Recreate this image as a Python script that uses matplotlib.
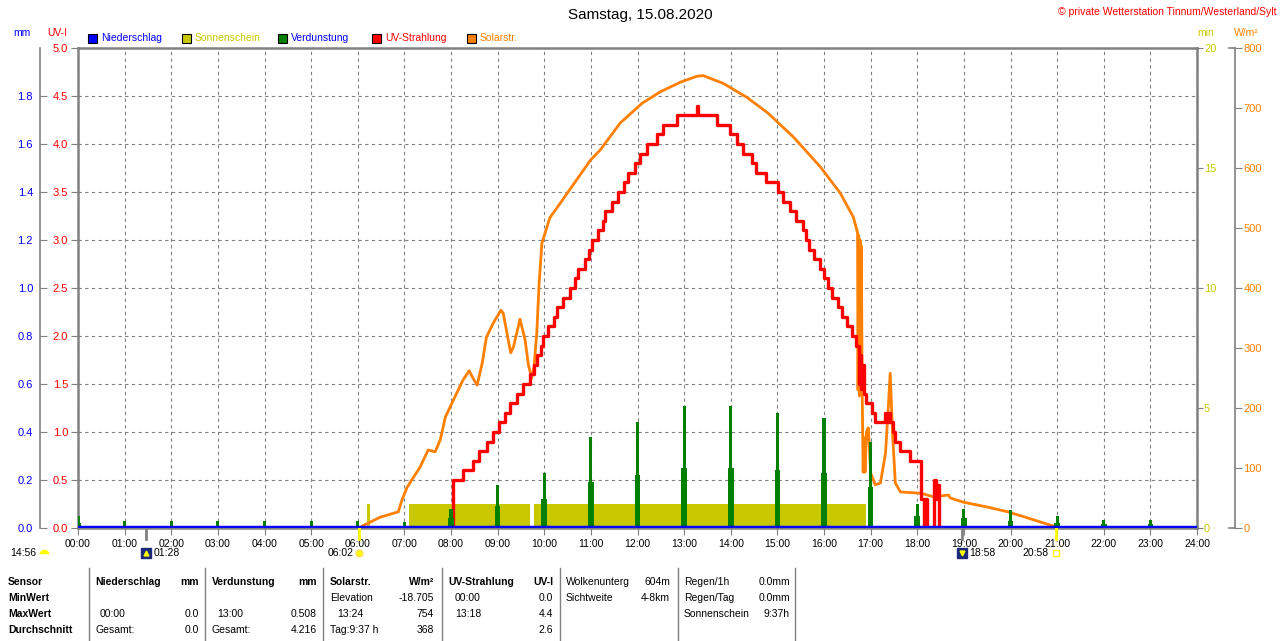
import numpy as np
import matplotlib
matplotlib.use('Agg')
import matplotlib.pyplot as plt
from matplotlib.lines import Line2D
from matplotlib.patches import Rectangle
import matplotlib.transforms as mtrans

plt.rcParams['font.family'] = ['Liberation Sans', 'DejaVu Sans']
plt.rcParams['font.size'] = 7.5

# --- Daten ---
hours = np.arange(0, 25)
hour_labels = ['%02d:00' % h for h in hours]

# UV-Strahlung (Stufen, Zeitpunkt der Aenderung)
uv_t = [0.0, 8.05, 8.26, 8.48, 8.59, 8.78, 8.91, 9.03, 9.16, 9.27, 9.42, 9.55, 9.70, 9.78,
        9.85, 9.92, 9.98, 10.09, 10.20, 10.28, 10.41, 10.56, 10.65, 10.73, 10.88, 10.95,
        11.03, 11.16, 11.25, 11.31, 11.46, 11.59, 11.70, 11.80, 11.95, 12.06, 12.21, 12.42,
        12.55, 12.85, 13.27, 13.30, 13.71, 13.99, 14.14, 14.27, 14.46, 14.55, 14.75, 15.02,
        15.13, 15.28, 15.39, 15.56, 15.62, 15.67, 15.78, 15.92, 16.00, 16.09, 16.18, 16.31,
        16.39, 16.50, 16.60, 16.68, 16.74, 16.76, 16.78, 16.80, 16.82, 16.85, 16.91, 17.04,
        17.10, 17.30, 17.32, 17.35, 17.37, 17.40, 17.42, 17.47, 17.53, 17.64, 17.85, 18.07,
        18.14, 18.16, 18.21, 18.35, 18.40, 18.43, 18.46, 24.0]
uv_v = [0.0, 0.5, 0.6, 0.7, 0.8, 0.9, 1.0, 1.1, 1.2, 1.3, 1.4, 1.5, 1.6, 1.7,
        1.8, 1.9, 2.0, 2.1, 2.2, 2.3, 2.4, 2.5, 2.6, 2.7, 2.8, 2.9,
        3.0, 3.1, 3.2, 3.3, 3.4, 3.5, 3.6, 3.7, 3.8, 3.9, 4.0, 4.1,
        4.2, 4.3, 4.4, 4.3, 4.2, 4.1, 4.0, 3.9, 3.8, 3.7, 3.6, 3.5,
        3.4, 3.3, 3.2, 3.1, 3.0, 2.9, 2.8, 2.7, 2.6, 2.5, 2.4, 2.3,
        2.2, 2.1, 2.0, 1.9, 1.7, 1.5, 1.8, 1.45, 1.7, 1.4, 1.3, 1.2,
        1.1, 1.2, 1.1, 1.2, 1.1, 1.2, 1.1, 1.0, 0.9, 0.8, 0.7, 0.3,
        0.0, 0.3, 0.0, 0.5, 0.3, 0.45, 0.0, 0.0]

# Solarstrahlung W/m2
sol_t = [0.0, 6.05, 6.09, 6.48, 6.87, 6.95, 7.06, 7.34, 7.51, 7.66, 7.77, 7.88, 8.05, 8.26,
         8.39, 8.47, 8.56, 8.67, 8.76, 8.91, 9.07, 9.12, 9.20, 9.28, 9.34, 9.41, 9.48, 9.59,
         9.66, 9.73, 9.78, 9.84, 9.89, 9.95, 10.02, 10.12, 10.34, 10.99, 11.20, 11.63, 12.10,
         12.49, 12.92, 13.28, 13.41, 13.84, 14.36, 14.79, 15.34, 15.92, 16.35, 16.63, 16.72,
         16.73, 16.745, 16.76, 16.775, 16.79, 16.80, 16.82, 16.84, 16.86, 16.88, 16.91, 16.95,
         17.00, 17.10, 17.21, 17.32, 17.38, 17.42, 17.47, 17.53, 17.64, 18.07, 18.35, 18.67,
         18.71, 18.99, 19.50, 19.94, 20.36, 20.64, 20.93, 20.98, 24.0]
sol_v = [0, 0, 3, 18, 27, 47, 68, 102, 130, 127, 147, 185, 213, 247,
         262, 250, 238, 275, 318, 342, 363, 358, 325, 292, 302, 325, 348, 313,
         272, 250, 268, 325, 408, 475, 492, 517, 541, 613, 630, 675, 708,
         727, 743, 753, 754, 741, 717, 692, 652, 602, 558, 518, 492,
         230, 488, 220, 480, 260, 470, 220, 93, 150, 93, 160, 167,
         92, 72, 75, 125, 202, 258, 158, 75, 60, 58, 52, 55,
         50, 43, 35, 27, 17, 10, 3, 0, 0]

# Sonnenschein (min)
sun_start = [6.20, 7.10, 9.77]
sun_end = [6.27, 9.70, 16.91]
sun_min = [1.0, 1.0, 1.0]

# Verdunstung (mm)
evap_t = np.arange(0, 24)
evap_peak = [0.05, 0.03, 0.03, 0.03, 0.03, 0.03, 0.03, 0.025, 0.08, 0.18, 0.23, 0.38,
             0.44, 0.508, 0.508, 0.48, 0.46, 0.36, 0.10, 0.08, 0.075, 0.05, 0.035, 0.035]
evap_base = [0.02, 0.01, 0.01, 0.01, 0.01, 0.01, 0.01, 0.01, 0.04, 0.09, 0.12, 0.19,
             0.22, 0.25, 0.25, 0.24, 0.23, 0.17, 0.05, 0.04, 0.03, 0.02, 0.015, 0.015]

# Niederschlag (mm)
rain_t = [0, 24]
rain_v = [0.0, 0.0]

BLUE = '#0000FF'
RED = '#FF0000'
ORANGE = '#FF8000'
SUN = '#C8C800'
GREEN = '#008000'
GRAY = '#808080'
NAVY = '#1C2A7A'

legend_names = ['Niederschlag', 'Sonnenschein', 'Verdunstung', 'UV-Strahlung', 'Solarstr.']
legend_box = [BLUE, SUN, GREEN, RED, ORANGE]
legend_txt = [BLUE, SUN, BLUE, RED, ORANGE]

W, H = 1280, 641
fig = plt.figure(figsize=(12.8, 6.41), dpi=100, facecolor='white')

def fx(x):
    return x / W

def fy(y):
    return 1 - y / H

ax = fig.add_axes([fx(78), fy(528), 1119 / W, 480 / H])
ax.set_zorder(0)
ax.set_xlim(0, 24)
ax.set_ylim(0, 5)
ax.set_xticks(hours)
ax.set_xticklabels(hour_labels)
ax.set_yticks(np.arange(0, 5.01, 0.5))
ax.set_yticklabels(['%.1f' % v for v in np.arange(0, 5.01, 0.5)])
ax.tick_params(axis='y', colors=GRAY, labelcolor=RED, direction='out', length=5, pad=2,
               labelsize=8)
ax.tick_params(axis='x', colors=GRAY, labelcolor='black', direction='out', length=5, pad=3,
               labelsize=7.5)
ax.grid(True, color=GRAY, linestyle=(0, (3, 3)), linewidth=0.8)
ax.set_axisbelow(True)
for s in ax.spines.values():
    s.set_color(GRAY)
    s.set_linewidth(1.8)

# Sonnenschein-Achse (rechts, min)
ax_sun = ax.twinx()
ax_sun.set_zorder(1)
ax_sun.set_ylim(0, 20)
ax_sun.set_yticks([0, 5, 10, 15, 20])
ax_sun.tick_params(axis='y', colors=GRAY, labelcolor=SUN, length=4, pad=1, labelsize=8)
for s in ax_sun.spines.values():
    s.set_visible(False)
ax_sun.bar(sun_start, sun_min, width=np.array(sun_end) - np.array(sun_start), align='edge',
           color=SUN, linewidth=0)

# Solarstrahlung-Achse (weiter rechts)
ax_sol = ax.twinx()
ax_sol.set_zorder(2)
ax_sol.set_ylim(0, 800)
ax_sol.set_yticks(np.arange(0, 801, 100))
ax_sol.tick_params(axis='y', colors=GRAY, labelcolor=ORANGE, length=5, pad=1, labelsize=8)
for k, s in ax_sol.spines.items():
    s.set_visible(k == 'right')
ax_sol.spines['right'].set_position(('axes', 1.034))
ax_sol.spines['right'].set_color(GRAY)
ax_sol.spines['right'].set_linewidth(1.2)
ax_sol.plot(sol_t, sol_v, color=ORANGE, lw=2.0)
for yy in [48, 528]:
    fig.add_artist(Line2D([fx(1229), fx(1235)], [fy(yy), fy(yy)], color=GRAY, lw=1.2,
                          transform=fig.transFigure))

# UV-Linie
ax_uv = ax.twinx()
ax_uv.set_zorder(3)
ax_uv.set_ylim(0, 5)
ax_uv.set_yticks([])
for s in ax_uv.spines.values():
    s.set_visible(False)
ax_uv.step(uv_t, uv_v, where='post', color=RED, lw=2.4)

# mm-Achse (links aussen): Verdunstung + Niederschlag
ax_mm = ax.twinx()
ax_mm.set_zorder(4)
ax_mm.set_ylim(0, 2)
ax_mm.yaxis.tick_left()
ax_mm.set_yticks(np.arange(0, 1.81, 0.2))
ax_mm.set_yticklabels(['%.1f' % v for v in np.arange(0, 1.81, 0.2)])
ax_mm.tick_params(axis='y', colors=GRAY, labelcolor=BLUE, direction='in', length=5, pad=5,
                  labelsize=8)
for k, s in ax_mm.spines.items():
    s.set_visible(k == 'left')
ax_mm.spines['left'].set_position(('axes', -0.034))
ax_mm.spines['left'].set_color(GRAY)
ax_mm.spines['left'].set_linewidth(1.2)
ax_mm.bar(evap_t, evap_base, width=0.12, color=GREEN, linewidth=0)
ax_mm.bar(evap_t, evap_peak, width=0.065, color=GREEN, linewidth=0)
ax_mm.plot(rain_t, rain_v, color=BLUE, lw=3.2)

# Achsentitel
fig.text(fx(22), fy(33), 'mm', color=BLUE, ha='center', va='center', fontsize=7.5)
fig.text(fx(57), fy(33), 'UV-I', color=RED, ha='center', va='center', fontsize=7.5)
fig.text(fx(1206), fy(33), 'min', color=SUN, ha='center', va='center', fontsize=7.5)
fig.text(fx(1246), fy(33), 'W/m²', color=ORANGE, ha='center', va='center', fontsize=7.5)

# Titel
fig.text(0.5, fy(15), 'Samstag, 15.08.2020', ha='center', va='center', fontsize=11)
fig.text(fx(1276), fy(12), '© private Wetterstation Tinnum/Westerland/Sylt', color=RED,
         ha='right', va='center', fontsize=7.5)

# Legende
leg_x = [88, 182, 278, 372, 467]
for name, bc, tc, x in zip(legend_names, legend_box, legend_txt, leg_x):
    fig.add_artist(Rectangle((fx(x), fy(43)), 9 / W, 9 / H, facecolor=bc, edgecolor='black',
                             linewidth=0.8, transform=fig.transFigure))
    fig.text(fx(x + 13), fy(38), name, color=tc, ha='left', va='center', fontsize=7.5)

# Mond / Sonne Zeiten
trans = mtrans.blended_transform_factory(ax.transData, ax.transAxes)
ev_t = [1 + 28 / 60, 6 + 2 / 60, 18 + 58 / 60, 20 + 58 / 60]
ev_lbl = ['01:28', '06:02', '18:58', '20:58']
ev_col = [GRAY, '#FFFF00', GRAY, '#FFFF00']
yrow = -25 / 480
for t, lbl, c in zip(ev_t, ev_lbl, ev_col):
    ax.plot([t, t], [0, -0.022], color=c, lw=2, transform=trans, clip_on=False, zorder=5)
ax.plot([ev_t[0]], [yrow], marker='s', ms=7, color=NAVY, transform=trans, clip_on=False)
ax.plot([ev_t[0]], [yrow], marker='^', ms=3.5, color='#FFFF00', transform=trans, clip_on=False)
ax.text(ev_t[0] + 0.15, yrow, ev_lbl[0], transform=trans, ha='left', va='center', fontsize=7.5)
ax.plot([ev_t[1]], [yrow], marker='o', ms=5, color='#FFFF00', mec='#FFE060',
        transform=trans, clip_on=False)
ax.text(ev_t[1] - 0.12, yrow, ev_lbl[1], transform=trans, ha='right', va='center', fontsize=7.5)
ax.plot([ev_t[2]], [yrow], marker='s', ms=7, color=NAVY, transform=trans, clip_on=False)
ax.plot([ev_t[2]], [yrow], marker='v', ms=3.5, color='#FFFF00', transform=trans, clip_on=False)
ax.text(ev_t[2] + 0.15, yrow, ev_lbl[2], transform=trans, ha='left', va='center', fontsize=7.5)
ax.plot([ev_t[3]], [yrow], marker='s', ms=4, mfc='white', mec='#FFFF00', mew=1,
        transform=trans, clip_on=False)
ax.text(ev_t[3] - 0.15, yrow, ev_lbl[3], transform=trans, ha='right', va='center', fontsize=7.5)
fig.text(fx(10), fy(553), '14:56', ha='left', va='center', fontsize=7.5)
fig.add_artist(Line2D([fx(44)], [fy(554)], marker='o', ms=7, fillstyle='top', mfc='#FFFF00',
                      mfcalt='white', mew=0, transform=fig.transFigure))

# Tabelle unten
for x in [89, 205, 323, 442, 560, 678, 795]:
    fig.add_artist(Line2D([fx(x), fx(x)], [fy(568), fy(641)], color=GRAY, lw=1,
                          transform=fig.transFigure))

rows_y = [582, 598, 614, 630]
left_txt = [
    (8, 0, 'Sensor', True), (8, 1, 'MinWert', True), (8, 2, 'MaxWert', True),
    (8, 3, 'Durchschnitt', True),
    (95, 0, 'Niederschlag', True), (100, 2, '00:00', False), (95, 3, 'Gesamt:', False),
    (212, 0, 'Verdunstung', True), (217, 2, '13:00', False), (212, 3, 'Gesamt:', False),
    (330, 0, 'Solarstr.', True), (330, 1, 'Elevation', False), (337, 2, '13:24', False),
    (330, 3, 'Tag:9:37 h', False),
    (448, 0, 'UV-Strahlung', True), (455, 1, '00:00', False), (455, 2, '13:18', False),
    (566, 0, 'Wolkenunterg', False), (566, 1, 'Sichtweite', False),
    (684, 0, 'Regen/1h', False), (684, 1, 'Regen/Tag', False), (684, 2, 'Sonnenschein', False),
]
right_txt = [
    (199, 0, 'mm', True), (199, 2, '0.0', False), (199, 3, '0.0', False),
    (317, 0, 'mm', True), (317, 2, '0.508', False), (317, 3, '4.216', False),
    (434, 0, 'W/m²', True), (434, 1, '-18.705', False), (434, 2, '754', False),
    (434, 3, '368', False),
    (553, 0, 'UV-I', True), (553, 1, '0.0', False), (553, 2, '4.4', False),
    (553, 3, '2.6', False),
    (670, 0, '604m', False), (670, 1, '4-8km', False),
    (790, 0, '0.0mm', False), (790, 1, '0.0mm', False), (790, 2, '9:37h', False),
]
for x, r, s, b in left_txt:
    fig.text(fx(x), fy(rows_y[r]), s, ha='left', va='center', fontsize=7.5,
             fontweight='bold' if b else 'normal')
for x, r, s, b in right_txt:
    fig.text(fx(x), fy(rows_y[r]), s, ha='right', va='center', fontsize=7.5,
             fontweight='bold' if b else 'normal')

fig.savefig('out.png', dpi=100, facecolor='white')
